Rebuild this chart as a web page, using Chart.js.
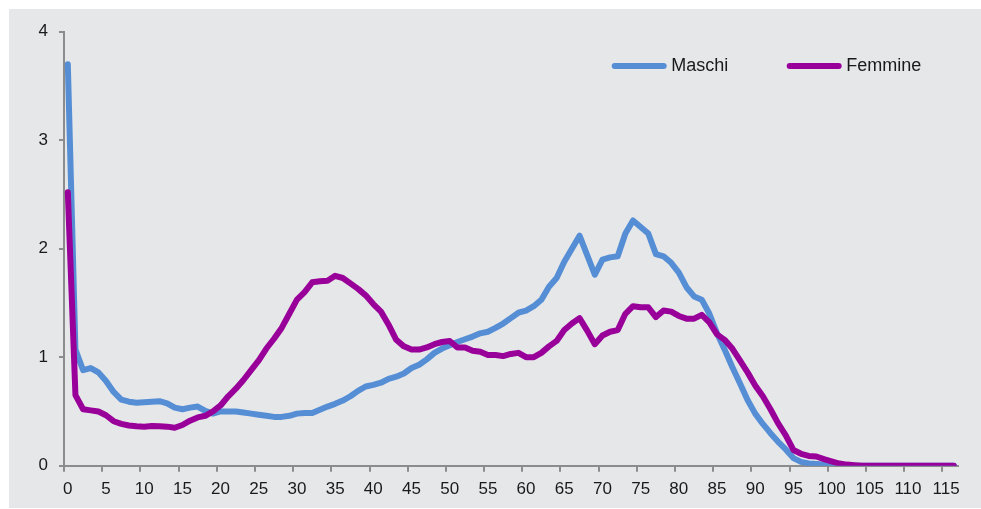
<!DOCTYPE html>
<html>
<head>
<meta charset="utf-8">
<script src="https://cdn.jsdelivr.net/npm/chart.js@4.4.0/dist/chart.umd.min.js"></script>
<style>
  html, body { margin: 0; padding: 0; background: #ffffff; }
  #wrap { width: 981px; height: 509px; position: relative; }
  canvas { display: block; }
</style>
</head>
<body>
<div id="wrap"><canvas id="c" width="981" height="509"></canvas></div>
<script>
// Age categories (x axis)
const categories = [
  '0','1','2','3','4','5','6','7','8','9','10','11','12','13','14','15','16','17','18','19',
  '20','21','22','23','24','25','26','27','28','29','30','31','32','33','34','35','36','37','38','39',
  '40','41','42','43','44','45','46','47','48','49','50','51','52','53','54','55','56','57','58','59',
  '60','61','62','63','64','65','66','67','68','69','70','71','72','73','74','75','76','77','78','79',
  '80','81','82','83','84','85','86','87','88','89','90','91','92','93','94','95','96','97','98','99',
  '100','101','102','103','104','105','106','107','108','109','110','111','112','113','114','115','116'
];

// Labels shown on the x axis
const tickLabels = ['0','5','10','15','20','25','30','35','40','45','50','55','60','65','70','75','80','85','90','95','100','105','110','115'];

// Y axis ticks
const yTicks = [0, 1, 2, 3, 4];

const seriesNames = ['Maschi', 'Femmine'];

const maschi = [
  3.70, 1.07, 0.88, 0.90, 0.86, 0.78, 0.68, 0.61, 0.59, 0.58,
  0.585, 0.59, 0.595, 0.575, 0.535, 0.52, 0.535, 0.545, 0.505, 0.48,
  0.50, 0.50, 0.50, 0.49, 0.48, 0.47, 0.46, 0.45, 0.45, 0.46,
  0.48, 0.485, 0.485, 0.515, 0.545, 0.57, 0.60, 0.64, 0.69, 0.73,
  0.745, 0.765, 0.80, 0.82, 0.85, 0.90, 0.93, 0.98, 1.04, 1.08,
  1.11, 1.14, 1.165, 1.19, 1.22, 1.235, 1.27, 1.31, 1.36, 1.41,
  1.43, 1.47, 1.53, 1.65, 1.73, 1.88, 2.00, 2.12, 1.94, 1.76,
  1.90, 1.92, 1.93, 2.14, 2.26, 2.20, 2.14, 1.95, 1.93, 1.87,
  1.78, 1.645, 1.56, 1.53, 1.40, 1.22, 1.07, 0.91, 0.76, 0.605,
  0.48, 0.385, 0.30, 0.22, 0.15, 0.07, 0.035, 0.02, 0.015, 0.01,
  0.005, 0, 0, 0, 0, 0, 0, 0, 0, 0,
  0, 0, 0, 0, 0, 0, 0
];

const femmine = [
  2.52, 0.65, 0.52, 0.51, 0.50, 0.465, 0.41, 0.385, 0.37, 0.363,
  0.36, 0.366, 0.363, 0.36, 0.35, 0.375, 0.415, 0.445, 0.46, 0.50,
  0.555, 0.64, 0.71, 0.79, 0.88, 0.97, 1.08, 1.17, 1.27, 1.40,
  1.53, 1.60, 1.69, 1.70, 1.705, 1.75, 1.73, 1.68, 1.63, 1.57,
  1.49, 1.42, 1.30, 1.16, 1.10, 1.07, 1.07, 1.09, 1.12, 1.14,
  1.15, 1.09, 1.09, 1.06, 1.05, 1.02, 1.02, 1.01, 1.03, 1.04,
  1.00, 1.00, 1.04, 1.10, 1.15, 1.25, 1.31, 1.36, 1.245, 1.12,
  1.20, 1.235, 1.25, 1.40, 1.47, 1.46, 1.46, 1.37, 1.43, 1.42,
  1.38, 1.355, 1.355, 1.39, 1.32, 1.21, 1.16, 1.08, 0.97, 0.86,
  0.74, 0.64, 0.52, 0.39, 0.28, 0.145, 0.11, 0.09, 0.085, 0.06,
  0.04, 0.02, 0.01, 0.005, 0, 0, 0, 0, 0, 0,
  0, 0, 0, 0, 0, 0, 0
];

const BLUE = '#558ed5';
const PURPLE = '#990099';
const AXIS = '#8c8c8c';
const TEXT = '#1a1a1a';
const FONT = '"Liberation Sans", Arial, sans-serif';

const bgPlugin = {
  id: 'bgPanel',
  beforeDraw(chart) {
    const c = chart.ctx;
    c.save();
    c.fillStyle = '#e6e7e9';
    c.fillRect(9, 9, 972, 499);
    c.restore();
  }
};

// Legend drawn in the upper right of the plot, one row, line + label per series
const legendRow = {
  id: 'legendRow',
  afterDraw(chart) {
    const c = chart.ctx;
    const starts = [614.7, 789.7];
    const y = 66;
    const lineLen = 49;
    c.save();
    c.font = '18px ' + FONT;
    c.textBaseline = 'middle';
    c.textAlign = 'left';
    chart.data.datasets.forEach((ds, i) => {
      const x0 = starts[i];
      c.strokeStyle = ds.borderColor;
      c.lineWidth = 6;
      c.lineCap = 'round';
      c.beginPath();
      c.moveTo(x0, y);
      c.lineTo(x0 + lineLen, y);
      c.stroke();
      c.fillStyle = TEXT;
      c.fillText(ds.label, x0 + lineLen + 7.5, y);
    });
    c.restore();
  }
};

new Chart(document.getElementById('c'), {
  type: 'line',
  data: {
    labels: categories,
    datasets: [
      {
        label: seriesNames[0],
        data: maschi,
        borderColor: BLUE,
        backgroundColor: BLUE,
        borderWidth: 6,
        order: 1
      },
      {
        label: seriesNames[1],
        data: femmine,
        borderColor: PURPLE,
        backgroundColor: PURPLE,
        borderWidth: 6,
        order: 0
      }
    ]
  },
  options: {
    responsive: false,
    animation: false,
    devicePixelRatio: 1,
    elements: {
      line: { tension: 0, borderJoinStyle: 'round', borderCapStyle: 'round', fill: false },
      point: { radius: 0, hoverRadius: 0, hitRadius: 0 }
    },
    layout: { padding: { left: 0, top: 31.7, right: 23.4, bottom: 0 } },
    plugins: {
      tooltip: { enabled: false },
      legend: { display: false }
    },
    scales: {
      x: {
        type: 'category',
        offset: true,
        ticks: {
          autoSkip: false,
          maxRotation: 0,
          minRotation: 0,
          padding: 7,
          color: TEXT,
          font: { family: FONT, size: 17 },
          callback: (v, i) => tickLabels.includes(categories[i]) ? categories[i] : ''
        },
        grid: {
          offset: true,
          drawOnChartArea: false,
          drawTicks: true,
          tickLength: 6,
          lineWidth: 2,
          color: (ctx) => (ctx.index !== undefined && ctx.index % 5 === 0) ? AXIS : 'rgba(0,0,0,0)'
        },
        border: { display: true, color: AXIS, width: 2 },
        afterFit(s) { s.height = 509 - 465.7; }
      },
      y: {
        min: yTicks[0],
        max: yTicks[yTicks.length - 1],
        afterBuildTicks(s) { s.ticks = yTicks.map(v => ({ value: v })); },
        ticks: {
          stepSize: 1,
          padding: 11,
          color: TEXT,
          font: { family: FONT, size: 17 }
        },
        grid: {
          drawOnChartArea: false,
          drawTicks: true,
          tickLength: 5,
          lineWidth: 2,
          color: AXIS
        },
        border: { display: true, color: AXIS, width: 2 },
        afterFit(s) { s.width = 64; }
      }
    }
  },
  plugins: [bgPlugin, legendRow]
});
</script>
</body>
</html>
